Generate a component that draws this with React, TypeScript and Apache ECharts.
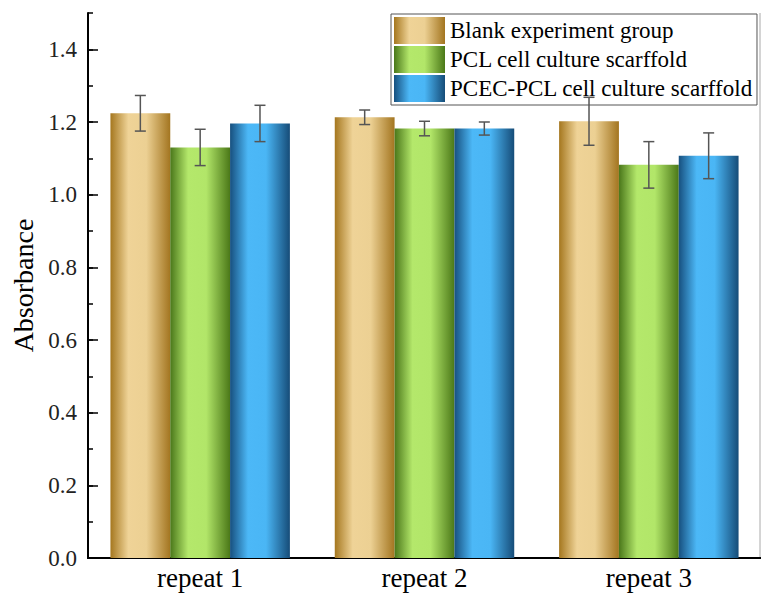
import React, { useEffect, useRef } from "react";
import * as echarts from "echarts";

const categories = ["repeat 1", "repeat 2", "repeat 3"];
const seriesNames = [
  "Blank experiment group",
  "PCL cell culture scarffold",
  "PCEC-PCL cell culture scarffold",
];
const blankValues = [1.224, 1.213, 1.202];
const blankErrors = [0.049, 0.02, 0.066];
const pclValues = [1.13, 1.182, 1.082];
const pclErrors = [0.05, 0.02, 0.064];
const pcecValues = [1.196, 1.182, 1.107];
const pcecErrors = [0.05, 0.018, 0.063];

const FONT = "'Liberation Serif', 'Times New Roman', serif";

function grad(stops: [number, string][]) {
  return new echarts.graphic.LinearGradient(
    0,
    0,
    1,
    0,
    stops.map(([offset, color]) => ({ offset, color }))
  );
}

const gradients = [
  grad([
    [0, "#a5771f"],
    [0.3, "#efd397"],
    [0.6, "#ecd093"],
    [1, "#a37520"],
  ]),
  grad([
    [0, "#4a771a"],
    [0.3, "#b4e86b"],
    [0.6, "#b2e669"],
    [1, "#4b7818"],
  ]),
  grad([
    [0, "#17507f"],
    [0.3, "#4cb8f7"],
    [0.6, "#4ab6f5"],
    [1, "#164c78"],
  ]),
];

export default function App() {
  const ref = useRef<HTMLDivElement>(null);
  useEffect(() => {
    document.body.style.margin = "0";
    const chart = echarts.init(ref.current!, undefined, { renderer: "svg" });
    const values = [blankValues, pclValues, pcecValues];
    const errors = [blankErrors, pclErrors, pcecErrors];

    const barSeries = values.map((vals, k) => ({
      type: "bar",
      name: seriesNames[k],
      data: vals,
      barGap: "0%",
      barCategoryGap: "20%",
      itemStyle: { color: gradients[k] },
    }));

    const errSeries = values.map((vals, k) => ({
      type: "custom",
      name: seriesNames[k] + " err",
      z: 10,
      data: vals.map((v, i) => [i, v, errors[k][i]]),
      renderItem: (params: any, api: any) => {
        const x = api.value(0);
        const v = api.value(1);
        const e = api.value(2);
        const c = api.coord([x, v]);
        const band = api.size([1, 0])[0];
        const barW = (band * 0.8) / 3;
        const cx = c[0] + (k - 1) * barW;
        const top = api.coord([x, v + e])[1];
        const bot = api.coord([x, v - e])[1];
        const cap = 5.5;
        const style = { stroke: "#555", lineWidth: 1.5 };
        return {
          type: "group",
          children: [
            { type: "line", shape: { x1: cx, y1: top, x2: cx, y2: bot }, style },
            { type: "line", shape: { x1: cx - cap, y1: top, x2: cx + cap, y2: top }, style },
            { type: "line", shape: { x1: cx - cap, y1: bot, x2: cx + cap, y2: bot }, style },
          ],
        };
      },
    }));

    chart.setOption({
      animation: false,
      textStyle: { fontFamily: FONT },
      grid: { left: 88, top: 13, width: 675, height: 545 },
      legend: {
        data: seriesNames,
        orient: "vertical",
        left: 391,
        top: 14,
        itemWidth: 51,
        itemHeight: 27,
        itemGap: 2,
        icon: "rect",
        padding: [3, 4, 3, 3],
        borderColor: "#555",
        borderWidth: 1,
        textStyle: { fontSize: 23, color: "#000", fontFamily: FONT },
      },
      xAxis: [
        {
          type: "category",
          data: categories,
          position: "bottom",
          axisLine: { lineStyle: { color: "#000", width: 2 } },
          axisTick: { inside: true, alignWithLabel: true, length: 11, lineStyle: { color: "#000", width: 1.5 } },
          axisLabel: { fontSize: 27, color: "#000", margin: 6, fontFamily: FONT },
        },
        {
          type: "category",
          data: categories,
          position: "top",
          axisLine: { lineStyle: { color: "#000", width: 2 } },
          axisTick: { show: false },
          axisLabel: { show: false },
        },
        {
          type: "category",
          data: categories,
          position: "bottom",
          axisLine: { show: false },
          axisTick: { inside: true, length: 5, lineStyle: { color: "#000", width: 1.5 } },
          axisLabel: { show: false },
        },
      ],
      yAxis: [
        {
          type: "value",
          min: 0,
          max: 1.5,
          interval: 0.2,
          name: "Absorbance",
          nameLocation: "middle",
          nameRotate: 90,
          nameGap: 39,
          nameTextStyle: { fontSize: 28, color: "#000", fontFamily: FONT },
          axisLine: { show: true, lineStyle: { color: "#000", width: 2 } },
          axisTick: { show: true, inside: true, length: 10, lineStyle: { color: "#000", width: 1.5 } },
          axisLabel: {
            fontSize: 23,
            color: "#222",
            margin: 11,
            fontFamily: FONT,
            showMaxLabel: false,
            formatter: (v: number) => v.toFixed(1),
          },
          splitLine: { show: false },
        },
        {
          type: "value",
          min: 0,
          max: 1.5,
          interval: 0.1,
          position: "left",
          axisLine: { show: false },
          axisTick: { show: true, inside: true, length: 5, lineStyle: { color: "#000", width: 1.5 } },
          axisLabel: { show: false },
          splitLine: { show: false },
        },
      ],
      graphic: [
        {
          type: "line",
          shape: { x1: 760, y1: 13, x2: 760, y2: 558 },
          style: { stroke: "#aaa", lineWidth: 1 },
        },
      ],
      series: [...barSeries, ...errSeries],
    });
    return () => chart.dispose();
  }, []);
  return <div ref={ref} style={{ width: 761, height: 598 }} />;
}
